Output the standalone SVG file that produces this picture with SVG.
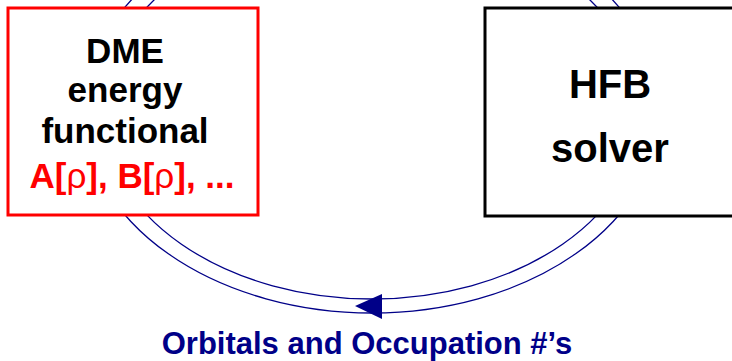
<svg xmlns="http://www.w3.org/2000/svg" width="732" height="361" viewBox="0 0 732 361">
<style>
.arc{fill:none;stroke:#000088;stroke-width:1.3}
.box{fill:#fff;stroke-width:3}
.t{font-family:"Liberation Sans",Arial,sans-serif;font-weight:bold;text-anchor:middle}
</style>
<rect width="732" height="361" fill="#fff"/>
<g id="connectors">
<ellipse class="arc" cx="372" cy="111" rx="288" ry="202"/>
<ellipse class="arc" cx="372" cy="111" rx="270" ry="188"/>
<polygon points="355,306 382,294 382,319" fill="#000088"/>
</g>
<g id="dme">
<rect class="box" x="8" y="8" width="250" height="207" stroke="#ff0000"/>
<text class="t" x="125" y="63" font-size="35" fill="#000">DME</text>
<text class="t" x="125" y="102" font-size="35" fill="#000">energy</text>
<text class="t" x="125" y="143" font-size="35" fill="#000">functional</text>
<text class="t" x="132" y="188" font-size="35" fill="#ff0000">A[<tspan font-weight="normal">ρ</tspan>], B[<tspan font-weight="normal">ρ</tspan>], ...</text>
</g>
<g id="hfb">
<rect class="box" x="485" y="8" width="260" height="208" stroke="#000"/>
<text class="t" x="610" y="98" font-size="40" fill="#000">HFB</text>
<text class="t" x="610" y="162" font-size="40" fill="#000">solver</text>
</g>
<g id="label">
<text class="t" x="367" y="354" font-size="31" fill="#000088">Orbitals and Occupation #’s</text>
</g>
</svg>
